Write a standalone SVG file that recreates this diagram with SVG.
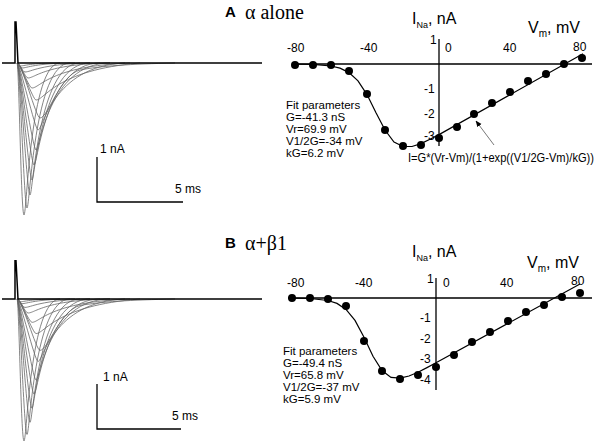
<svg xmlns="http://www.w3.org/2000/svg" width="600" height="443" viewBox="0 0 600 443">
<style>
text{font-family:"Liberation Sans",Arial,sans-serif;font-size:12px;fill:#000}
.fp{font-size:11.5px}
.t{fill:none;stroke:#666;stroke-width:0.8;vector-effect:non-scaling-stroke}
.ax{stroke:#000;stroke-width:1.3;fill:none}
.fit{stroke:#000;stroke-width:1.2;fill:none}
.gr{font-family:"Liberation Serif","Times New Roman",serif;font-size:20px}
.big{font-size:16px}
.lb{font-weight:bold;font-size:15px}
</style>
<defs>
<circle id="d" r="4" fill="#000"/>
<g id="traces">
<path class="t" d="M17,63 C19,63 21,215 24,215 C27,215 30,63 60,63"/>
<path class="t" d="M17,63 C20,63 24,208 27,208 C30,208 34,63 70,63"/>
<path class="t" d="M17,63 C20,63 27,195 30,195 C33,195 38,63 80,63"/>
<path class="t" d="M17,63 C20,63 29,180 32,180 C35,180 41,63 90,63"/>
<path class="t" d="M17,63 C20,63 31,165 34,165 C38,165 45,63 100,63"/>
<path class="t" d="M17,63 C20,63 33,150 36,150 C40,150 48,63 110,63"/>
<path class="t" d="M17,63 C20,63 35,130 38,130 C43,130 52,66 125,63"/>
<path class="t" d="M17,63 C22,63 36,118 40,118 C48,118 60,75 80,70 C100,66 130,64 175,63"/>
<path class="t" d="M17,63 C20,63 33,100 36,100 C45,100 55,70 140,63"/>
<path class="t" d="M17,63 C20,63 29,88 32,88 C40,88 50,66 130,63"/>
<path class="t" d="M17,63 C20,63 25,78 28,78 C35,78 45,64 110,63"/>
<path class="t" d="M17,63 C20,63 22,72 25,72 C31,72 40,64 90,63"/>
<path class="t" d="M17,63 C19,63 20,68 22,68 C27,68 35,63 75,63"/>
<path class="t" d="M17,63 C18,63 19,66 20,66 C24,66 30,63 60,63"/>
<path d="M2,63 L15,63 L15,22 L16,22 L18,63 L262,63" fill="none" stroke="#000" stroke-width="1.5" vector-effect="non-scaling-stroke"/>
</g>
<marker id="ah" viewBox="0 0 10 10" refX="9" refY="5" markerWidth="8" markerHeight="8" orient="auto"><path d="M0,1 L10,5 L0,9 Z" fill="#000"/></marker>
</defs>

<g id="tracesA"><use href="#traces"/></g>
<g id="scaleA">
<path class="ax" d="M97,157 L97,202 L183,202"/>
<text x="100" y="153">1 nA</text>
<text x="175" y="193">5 ms</text>
</g>

<g id="tracesB"><use href="#traces" transform="translate(0,299) scale(1,0.934) translate(0,-63)"/></g>
<g id="scaleB">
<path class="ax" d="M97,384 L97,429 L181,429"/>
<text x="103" y="381">1 nA</text>
<text x="172" y="420">5 ms</text>
</g>

<g id="panelA">
<text x="225" y="17" class="lb">A</text>
<text x="245" y="19" class="gr">α alone</text>
<text x="412" y="24" class="big">I<tspan font-size="9" dy="4">Na</tspan><tspan dy="-4">, nA</tspan></text>
<text x="528" y="33" class="big">V<tspan font-size="10" dy="4">m</tspan><tspan dy="-4">, mV</tspan></text>
<path class="ax" d="M292,64 L592,64 M439,39 L439,146"/>
<text x="287" y="52">-80</text><text x="360" y="52">-40</text><text x="445" y="52">0</text><text x="503" y="52">40</text><text x="573" y="51">80</text>
<text x="430" y="44">1</text><text x="424" y="93">-1</text><text x="424" y="118">-2</text><text x="424" y="140">-3</text>
<path class="fit" d="M295,64.1 L313,64.4 L331,66 L340,68.1 L349,72.6 L358,80.9 L367,94.6 L376,112.8 L385,130 L394,142 L403,146.5 L412,146.5 L421,143.6 L430,139.2 L439,134.6 L583,53.8"/>
<g>
<use href="#d" x="295" y="65"/><use href="#d" x="313" y="65"/><use href="#d" x="331" y="65"/><use href="#d" x="349" y="71"/><use href="#d" x="367" y="94"/><use href="#d" x="385" y="130"/><use href="#d" x="403" y="146"/><use href="#d" x="421" y="145"/><use href="#d" x="439" y="138"/><use href="#d" x="457" y="127"/><use href="#d" x="474" y="114"/><use href="#d" x="492" y="103"/><use href="#d" x="510" y="92"/><use href="#d" x="528" y="81"/><use href="#d" x="546" y="74"/><use href="#d" x="564" y="64"/><use href="#d" x="582" y="58"/>
</g>
<text class="fp" x="286" y="109">Fit parameters</text>
<text class="fp" x="286" y="121">G=-41.3 nS</text>
<text class="fp" x="286" y="133">Vr=69.9 mV</text>
<text class="fp" x="286" y="145">V1/2G=-34 mV</text>
<text class="fp" x="286" y="157">kG=6.2 mV</text>
<text x="408" y="162" font-size="11" textLength="186" lengthAdjust="spacingAndGlyphs">I=G*(Vr-Vm)/(1+exp((V1/2G-Vm)/kG))</text>
</g>
<g id="connectors">
<line x1="494" y1="145" x2="476" y2="121" stroke="#555" stroke-width="0.8" marker-end="url(#ah)"/>
</g>

<g id="panelB">
<text x="225" y="248" class="lb">B</text>
<text x="245" y="250" class="gr">α+β1</text>
<text x="412" y="257" class="big">I<tspan font-size="9" dy="4">Na</tspan><tspan dy="-4">, nA</tspan></text>
<text x="527" y="268" class="big">V<tspan font-size="10" dy="4">m</tspan><tspan dy="-4">, mV</tspan></text>
<path class="ax" d="M288,298 L592,298 M436,278 L436,390"/>
<text x="287" y="287">-80</text><text x="355" y="287">-40</text><text x="443" y="287">0</text><text x="500" y="287">40</text><text x="571" y="285">80</text>
<text x="427" y="283">1</text><text x="420" y="322">-1</text><text x="420" y="343">-2</text><text x="420" y="363">-3</text><text x="420" y="384">-4</text>
<path class="fit" d="M292,298.1 L310,298.5 L328,300.5 L337,303.4 L346,309.4 L355,320.4 L364,337.3 L373,356.2 L382,370.6 L391,377.4 L400,378.2 L409,376 L418,372.2 L427,367.6 L436,362.8 L580,284"/>
<g>
<use href="#d" x="292" y="298"/><use href="#d" x="310" y="298"/><use href="#d" x="328" y="299"/><use href="#d" x="346" y="306"/><use href="#d" x="364" y="341"/><use href="#d" x="382" y="371"/><use href="#d" x="400" y="379"/><use href="#d" x="418" y="375"/><use href="#d" x="436" y="367"/><use href="#d" x="454" y="355"/><use href="#d" x="472" y="342"/><use href="#d" x="490" y="332"/><use href="#d" x="508" y="321"/><use href="#d" x="526" y="312"/><use href="#d" x="544" y="305"/><use href="#d" x="562" y="297"/><use href="#d" x="580" y="293"/>
</g>
<text class="fp" x="283" y="355">Fit parameters</text>
<text class="fp" x="283" y="367">G=-49.4 nS</text>
<text class="fp" x="283" y="379">Vr=65.8 mV</text>
<text class="fp" x="283" y="391">V1/2G=-37 mV</text>
<text class="fp" x="283" y="403">kG=5.9 mV</text>
</g>
</svg>
